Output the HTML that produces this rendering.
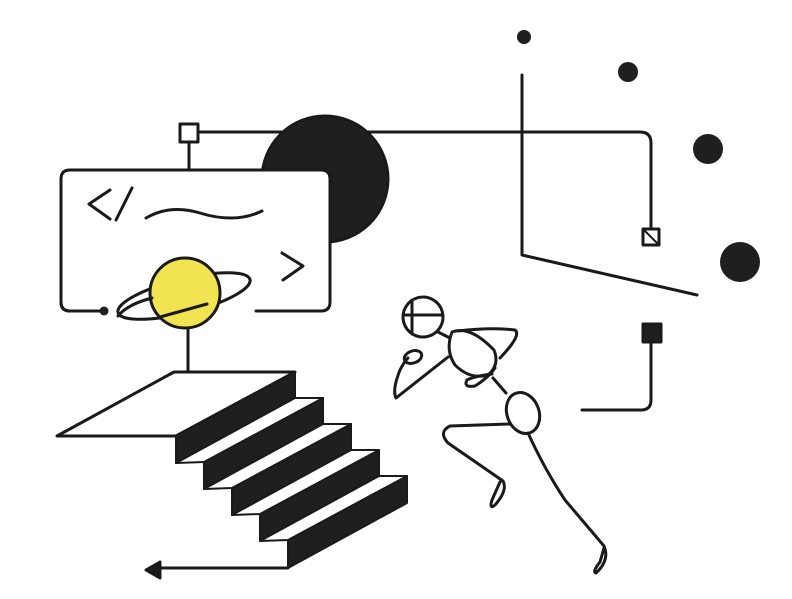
<!DOCTYPE html>
<html><head><meta charset="utf-8"><style>html,body{margin:0;padding:0;background:#fff}svg{display:block}</style></head>
<body>
<svg width="792" height="599" viewBox="0 0 792 599" xmlns="http://www.w3.org/2000/svg" fill="none" stroke="#1a1a1a" stroke-width="3" stroke-linecap="round" stroke-linejoin="round">
<circle cx="524" cy="37" r="7" fill="#1f1f1f" stroke="none"/>
<circle cx="628" cy="72" r="10" fill="#1f1f1f" stroke="none"/>
<circle cx="708" cy="149" r="15" fill="#1f1f1f" stroke="none"/>
<circle cx="740" cy="262" r="20" fill="#1f1f1f" stroke="none"/>
<path d="M198 132 H640 Q651 132 651 143 V229"/>
<rect x="643" y="229" width="16" height="16" fill="#fff"/>
<path d="M645 231 L657 243" stroke-width="2"/>
<path d="M522 75 V255 L697 295"/>
<rect x="643" y="324" width="18" height="18" fill="#1f1f1f"/>
<path d="M651 342 V400 Q651 410 641 410 H582"/>
<circle cx="325" cy="179" r="63" fill="#1f1f1f"/>
<path d="M189 142 V170"/>
<rect x="180" y="124" width="18" height="18" fill="#fff"/>
<path d="M104 311 H70 Q61 311 61 302 V179 Q61 170 70 170 H321 Q330 170 330 179 V302 Q330 311 321 311 H256" fill="#fff"/>
<path d="M61 179 V302 Q61 311 70 311 H104"/>
<circle cx="104" cy="311" r="4.5" fill="#1f1f1f" stroke="none"/>
<path d="M110 190 L89 204 L110 219"/>
<path d="M132 188 L116 220"/>
<path d="M146 218 Q170 204 200 213 Q235 224 262 211"/>
<path d="M282 253 L303 266 L283 280"/>
<path d="M188 330 V372"/>
<ellipse cx="184" cy="296" rx="68" ry="17" transform="rotate(-14 184 296)"/>
<circle cx="185" cy="293" r="35" fill="#f2e451"/>
<path d="M118 316 Q128 304 152 298"/>
<path d="M160 317 L207 304"/>
<path d="M55 0"/>
<path d="M57 436 L174 372 H295 L176 436 Z" fill="#fff"/>
<g fill="#1f1f1f" stroke="#1a1a1a" stroke-width="2">
<path d="M176 436 L295 372 V398 L176 463 Z"/>
<path d="M204 462 L323 398 V424 L204 489 Z"/>
<path d="M232 488 L351 424 V450 L232 515 Z"/>
<path d="M260 514 L379 450 V476 L260 541 Z"/>
<path d="M288 540 L407 476 V503 L288 568 Z"/>
</g>
<g fill="#fff" stroke="#1a1a1a" stroke-width="2">
<path d="M176 463 L295 398 H323 L204 462 Z"/>
<path d="M204 489 L323 424 H351 L232 488 Z"/>
<path d="M232 515 L351 450 H379 L260 514 Z"/>
<path d="M260 541 L379 476 H407 L288 540 Z"/>
</g>
<path d="M288 568 H152"/>
<path d="M146 570 L160 562 V578 Z" fill="#1a1a1a"/>
<ellipse cx="423" cy="317" rx="20" ry="20" transform="rotate(-15 423 317)"/>
<path d="M404 315 H442 M412 300 V334"/>
<path d="M438 332 L450 338"/>
<path d="M452 332 Q470 325 494 350 Q500 365 488 375 Q470 380 455 365 Q445 350 452 332 Z"/>
<path d="M458 331 Q490 327 515 330 Q522 335 500 358"/>
<path d="M495 368 Q488 378 475 386 Q463 388 467 380 Q475 376 492 374"/>
<path d="M448 357 L396 398 Q392 390 400 370 Q404 362 408 358"/>
<ellipse cx="413" cy="357" rx="9" ry="6" transform="rotate(-20 413 357)"/>
<path d="M493 378 L506 393"/>
<ellipse cx="523" cy="413" rx="16" ry="21" transform="rotate(-20 523 413)"/>
<path d="M510 424 L450 426 Q438 432 448 443 L503 481 Q508 490 495 505 Q489 510 492 500 L500 482"/>
<path d="M528 433 Q545 470 565 500 L604 546 Q610 560 596 573 Q592 572 600 562 L604 548"/>
</svg>
</body></html>
